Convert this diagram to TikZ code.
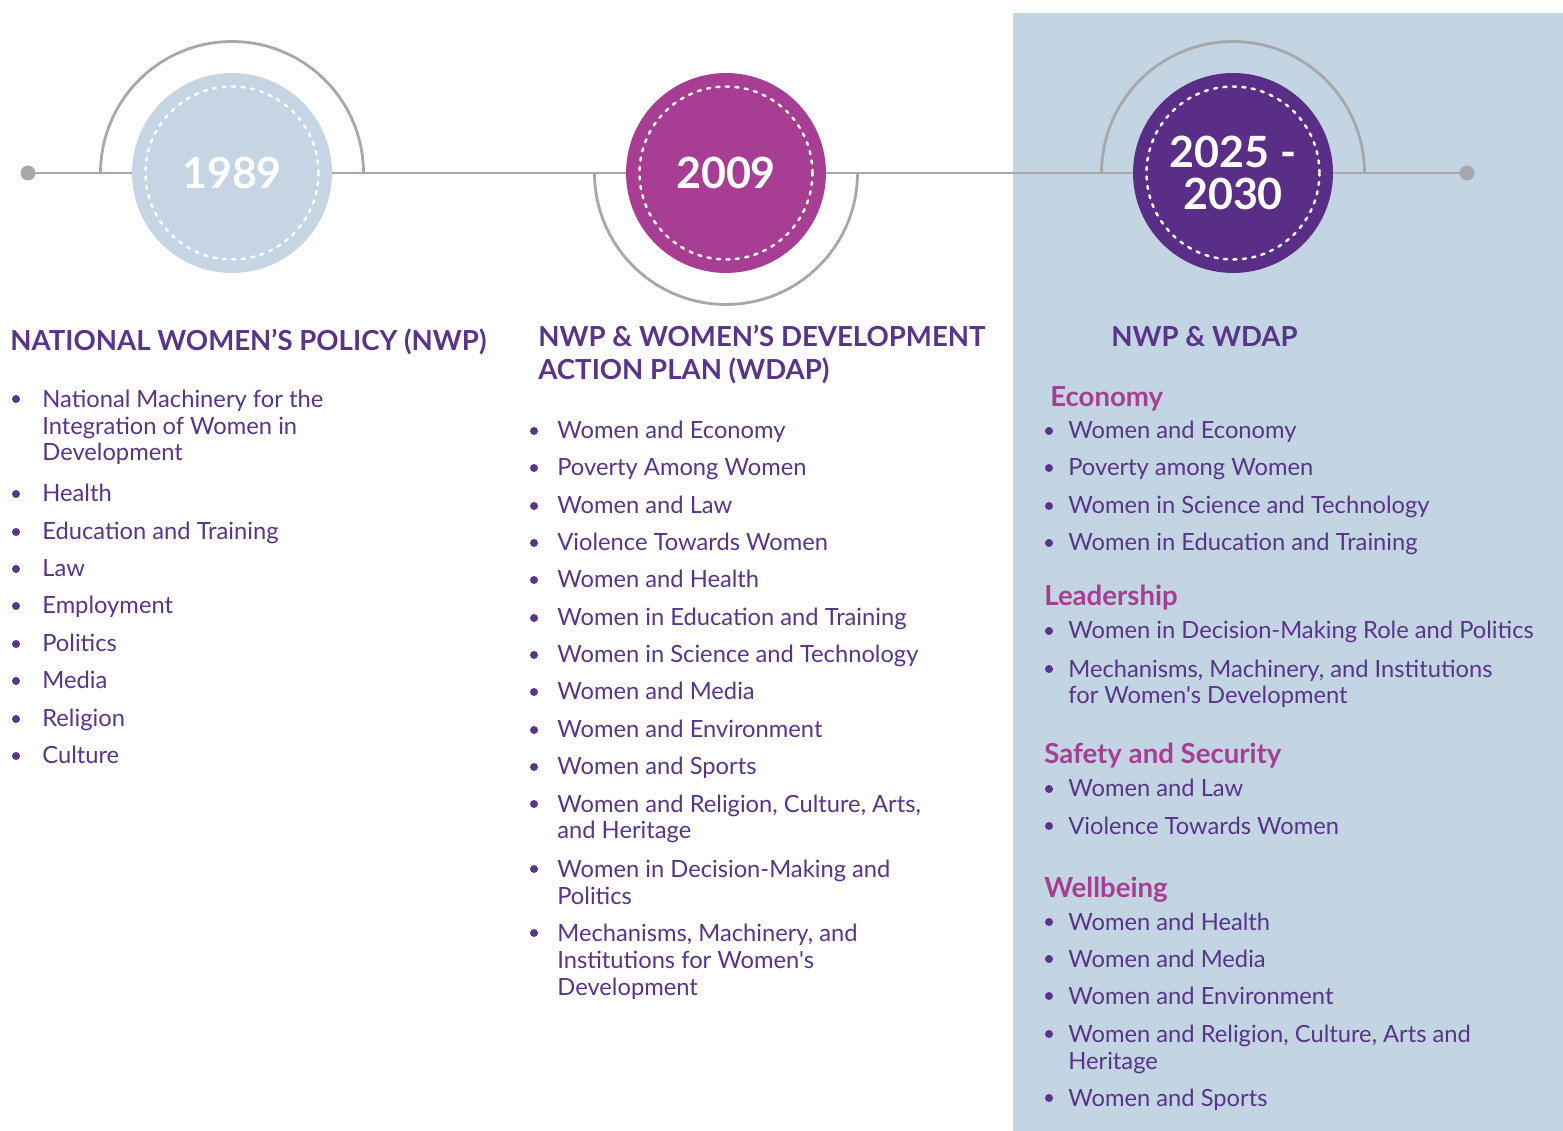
\documentclass[tikz,border=0pt]{standalone}
\usepackage{fontspec}
\setmainfont{Lato}[Ligatures=TeXOff]
\usepackage{xcolor}
\definecolor{paleblue}{RGB}{197,213,227}
\definecolor{panelblue}{RGB}{195,212,226}
\definecolor{orchid}{RGB}{168,62,147}
\definecolor{deeppurple}{RGB}{90,45,135}
\definecolor{txtpurple}{RGB}{88,52,138}
\definecolor{linegray}{RGB}{167,168,171}

\tikzset{
    tline/.style={draw=linegray, line width=1.6pt},
    yearc/.style={circle, minimum size=4cm, inner sep=0pt, text=white,
        font=\fontsize{24.5}{24.4}\selectfont\bfseries, align=center},
    dashring/.style={draw=white, line width=1.4pt, line cap=round,
        dash pattern=on 1.8pt off 3.6pt},
    head/.style={anchor=base west, inner sep=0pt, text=txtpurple,
        font=\fontsize{15.7}{18.8}\selectfont\bfseries, align=left},
    sect/.style={anchor=base west, inner sep=0pt, text=orchid,
        font=\fontsize{15.7}{18.8}\selectfont\bfseries},
    item/.style={anchor=base west, inner sep=0pt, text=txtpurple,
        font=\fontsize{13.5}{15.3}\selectfont, align=left},
    dotc/.style={fill=txtpurple}
}

\begin{document}
\begin{tikzpicture}[x=0.02cm, y=-0.02cm]
    \useasboundingbox (0,0) rectangle (1563,1131);

    % Right panel for the current plan
    \fill[panelblue] (1013,13) rectangle (1563,1131);

    % Timeline
    \coordinate (t0) at (28,173);
    \coordinate (t1) at (1467,173);
    \coordinate (c1) at (232,173);
    \coordinate (c2) at (726,173);
    \coordinate (c3) at (1233,173);
    \draw[tline] (t0) -- (t1);
    \fill[linegray] (t0) circle (0.15cm);
    \fill[linegray] (t1) circle (0.15cm);

    % Half rings round the years
    \draw[tline] ([xshift=-2.63cm]c1) arc[start angle=180, end angle=0, radius=2.63cm];
    \draw[tline] ([xshift=-2.63cm]c2) arc[start angle=180, end angle=360, radius=2.63cm];
    \draw[tline] ([xshift=-2.63cm]c3) arc[start angle=180, end angle=0, radius=2.63cm];

    % Year circles
    \node[yearc, fill=paleblue] (y1) at (c1) {1989};
    \node[yearc, fill=orchid] (y2) at (c2) {2009};
    \node[yearc, fill=deeppurple] (y3) at (c3) {2025 -\\2030};
    \draw[dashring] (y1.center) circle (1.73cm);
    \draw[dashring] (y2.center) circle (1.73cm);
    \draw[dashring] (y3.center) circle (1.73cm);

    % Column headings (base anchor sits on the last line)
    \node[head] (h1) at (10,351) {NATIONAL WOMEN’S POLICY (NWP)};
    \node[head] (h2) at (538,380) {NWP \& WOMEN’S DEVELOPMENT\\ACTION PLAN (WDAP)};
    \node[head] (h3) at (1111,347) {NWP \& WDAP};

    % 1989 list: first baseline / extra lines / text
    \foreach \y/\n/\t [count=\i] in {
        407/2/{National Machinery for the\\Integration of Women in\\Development},
        502/0/Health, 540/0/Education and Training, 577/0/Law, 614/0/Employment,
        652/0/Politics, 689/0/Media, 727/0/Religion, 764/0/Culture}
    {
        \node[item] (p\i) at (42,\y+27*\n) {\t};
        \fill[dotc] (16,\y-8) circle (0.08cm);
    }

    % 2009 list
    \foreach \y/\n/\t [count=\i] in {
        439/0/Women and Economy, 476/0/Poverty Among Women, 514/0/Women and Law,
        551/0/Violence Towards Women, 588/0/Women and Health,
        626/0/Women in Education and Training, 663/0/Women in Science and Technology,
        700/0/Women and Media, 738/0/Women and Environment, 775/0/Women and Sports,
        812/1/{Women and Religion, Culture, Arts,\\and Heritage},
        877/1/{Women in Decision-Making and\\Politics},
        941/2/{Mechanisms, Machinery, and\\Institutions for Women's\\Development}}
    {
        \node[item] (q\i) at (557,\y+27*\n) {\t};
        \fill[dotc] (534,\y-8) circle (0.08cm);
    }

    % 2025-2030 sections
    \node[sect] (s1) at (1050,407) {Economy};
    \node[sect] (s2) at (1044,606) {Leadership};
    \node[sect] (s3) at (1044,764) {Safety and Security};
    \node[sect] (s4) at (1044,897) {Wellbeing};

    \foreach \y/\n/\t [count=\i] in {
        439/0/Women and Economy, 476/0/Poverty among Women,
        514/0/Women in Science and Technology, 551/0/Women in Education and Training,
        639/0/Women in Decision-Making Role and Politics,
        677/1/{Mechanisms, Machinery, and Institutions\\for Women's Development},
        797/0/Women and Law, 834/0/Violence Towards Women,
        930/0/Women and Health, 967/0/Women and Media, 1004/0/Women and Environment,
        1042/1/{Women and Religion, Culture, Arts and\\Heritage},
        1106/0/Women and Sports}
    {
        \node[item] (r\i) at (1068,\y+27*\n) {\t};
        \fill[dotc] (1049,\y-8) circle (0.08cm);
    }
\end{tikzpicture}
\end{document}
